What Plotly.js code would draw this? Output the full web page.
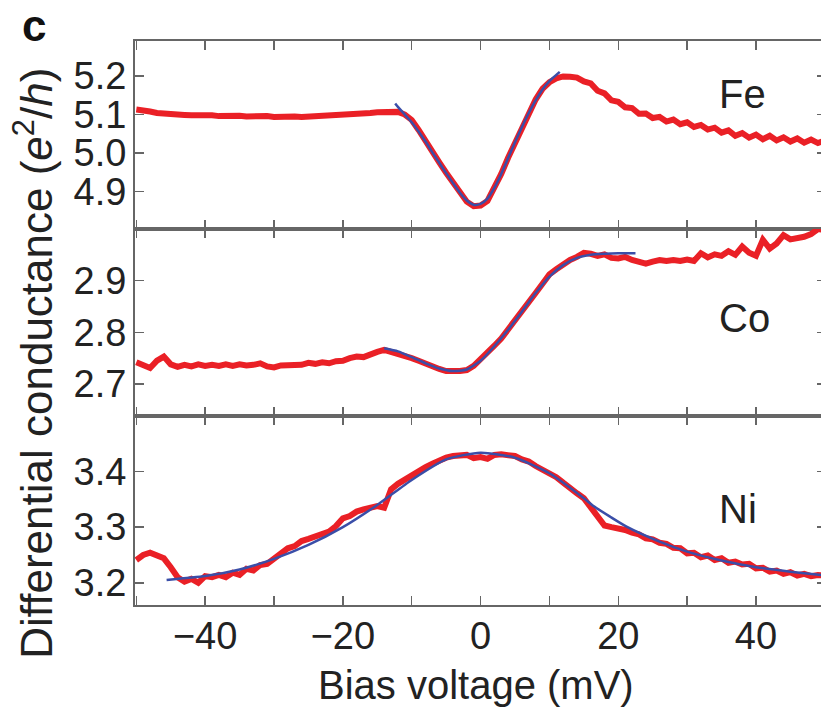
<!DOCTYPE html>
<html><head><meta charset="utf-8">
<script src="https://cdn.plot.ly/plotly-3.0.1.min.js"></script>
<style>html,body{margin:0;padding:0;overflow:hidden;background:#fff}</style>
</head><body><div id="chart" style="width:830px;height:710px"></div>
<script>
// Bias voltage grid (mV)
const bias = [-50,-49,-48,-47,-46,-45,-44,-43,-42,-41,-40,-39,-38,-37,-36,-35,-34,-33,-32,-31,-30,-29,-28,-27,-26,-25,-24,-23,-22,-21,-20,-19,-18,-17,-16,-15,-14,-13,-12,-11,-10,-9,-8,-7,-6,-5,-4,-3,-2,-1,0,1,2,3,4,5,6,7,8,9,10,11,12,13,14,15,16,17,18,19,20,21,22,23,24,25,26,27,28,29,30,31,32,33,34,35,36,37,38,39,40,41,42,43,44,45,46,47,48,49,50];

// Measured differential conductance (e^2/h)
const feData = [5.113,5.112,5.108,5.104,5.102,5.100,5.101,5.099,5.098,5.099,5.097,5.098,5.096,5.097,5.095,5.097,5.095,5.096,5.094,5.096,5.094,5.095,5.093,5.095,5.094,5.095,5.094,5.096,5.095,5.097,5.097,5.099,5.100,5.103,5.104,5.106,5.107,5.109,5.107,5.100,5.086,5.060,5.030,5.002,4.976,4.949,4.923,4.897,4.874,4.862,4.864,4.876,4.910,4.946,4.988,5.028,5.068,5.103,5.139,5.167,5.184,5.194,5.199,5.198,5.196,5.186,5.181,5.162,5.155,5.137,5.133,5.119,5.117,5.102,5.103,5.091,5.094,5.082,5.087,5.075,5.080,5.068,5.073,5.061,5.066,5.053,5.059,5.045,5.052,5.040,5.048,5.036,5.045,5.033,5.041,5.030,5.038,5.027,5.035,5.026,5.033];

const coData = [2.742,2.738,2.731,2.745,2.753,2.738,2.733,2.737,2.734,2.738,2.735,2.737,2.735,2.738,2.735,2.738,2.736,2.737,2.740,2.734,2.732,2.736,2.736,2.738,2.737,2.741,2.739,2.742,2.740,2.744,2.745,2.750,2.753,2.752,2.758,2.762,2.766,2.762,2.760,2.757,2.750,2.745,2.739,2.733,2.729,2.725,2.724,2.725,2.727,2.735,2.748,2.760,2.774,2.788,2.805,2.821,2.840,2.858,2.876,2.894,2.912,2.922,2.932,2.940,2.946,2.954,2.952,2.948,2.951,2.944,2.943,2.946,2.940,2.937,2.933,2.937,2.940,2.938,2.940,2.938,2.941,2.938,2.953,2.945,2.951,2.948,2.957,2.950,2.966,2.954,2.948,2.979,2.962,2.972,2.988,2.980,2.982,2.985,2.990,3.000,2.998];

const niData = [3.241,3.250,3.254,3.249,3.244,3.228,3.210,3.202,3.207,3.200,3.212,3.210,3.214,3.210,3.218,3.214,3.225,3.222,3.232,3.234,3.244,3.252,3.262,3.266,3.275,3.279,3.283,3.288,3.292,3.302,3.316,3.320,3.328,3.332,3.336,3.338,3.335,3.368,3.378,3.386,3.392,3.399,3.408,3.414,3.421,3.425,3.428,3.429,3.430,3.424,3.426,3.423,3.430,3.431,3.430,3.428,3.422,3.418,3.410,3.404,3.397,3.390,3.380,3.372,3.361,3.352,3.336,3.320,3.303,3.300,3.298,3.295,3.290,3.287,3.280,3.278,3.272,3.270,3.263,3.262,3.253,3.254,3.246,3.249,3.241,3.244,3.236,3.238,3.233,3.234,3.226,3.227,3.220,3.222,3.216,3.219,3.213,3.216,3.212,3.214,3.213];

// Fitted curves
const feFitBias = [-12.4,-12,-11,-10,-9,-8,-7,-6,-5,-4,-3,-2,-1,0,1,2,3,4,5,6,7,8,9,10,11,11.5];
const feFit = [5.129,5.120,5.100,5.080,5.056,5.030,5.002,4.975,4.948,4.922,4.897,4.877,4.866,4.868,4.882,4.910,4.946,4.987,5.028,5.067,5.104,5.137,5.165,5.187,5.203,5.211];

const coFitBias = [-14,-12,-10,-8,-6,-4,-2,0,2,4,6,8,10,12,14,16,18,20,22.5];
const coFit = [2.769,2.763,2.752,2.740,2.730,2.725,2.728,2.745,2.773,2.805,2.840,2.876,2.908,2.930,2.944,2.950,2.952,2.953,2.953];

const niFitBias = [-45.6,-40,-35,-30,-25,-20,-15,-10,-5,0,5,10,15,16.4,18.8,21.2,26,30,35,40,45,50];
const niFit = [3.205,3.212,3.224,3.243,3.268,3.300,3.340,3.385,3.422,3.434,3.425,3.397,3.352,3.338,3.319,3.301,3.274,3.256,3.240,3.228,3.220,3.213];

const xTickVals = [-40,-20,0,20,40];
const feTicks = [4.9,5.0,5.1,5.2];
const coTicks = [2.7,2.8,2.9];
const niTicks = [3.2,3.3,3.4];
const panelLabels = ['Fe','Co','Ni'];

const RED = 'rgb(234,32,38)';
const BLUE = 'rgb(58,78,168)';
const FONT = 'Liberation Sans, Arial, Helvetica, sans-serif';
const TXT = '#222';
const AX = '#666';

function dataTrace(x, y, xa, ya){
  return {x:x, y:y, xaxis:xa, yaxis:ya, type:'scatter', mode:'lines',
    line:{color:RED, width:6, shape:'linear'}, hoverinfo:'skip', showlegend:false};
}
function fitTrace(x, y, xa, ya){
  return {x:x, y:y, xaxis:xa, yaxis:ya, type:'scatter', mode:'lines',
    line:{color:BLUE, width:2.5, shape:'spline', smoothing:0.6}, hoverinfo:'skip', showlegend:false};
}

const traces = [
  dataTrace(bias, feData, 'x', 'y'), fitTrace(feFitBias, feFit, 'x', 'y'),
  dataTrace(bias, coData, 'x2', 'y2'), fitTrace(coFitBias, coFit, 'x2', 'y2'),
  dataTrace(bias, niData, 'x3', 'y3'), fitTrace(niFitBias, niFit, 'x3', 'y3')
];

const xRange = [-50.19, 50.17];
function xAxis(anchor, labels){
  return {anchor:anchor, range:xRange, showgrid:false, zeroline:false,
    showline:true, linecolor:AX, linewidth:2, mirror:'ticks',
    ticks:'inside', ticklen:9, tickwidth:1.5, tickcolor:AX,
    tickmode:'array', tickvals:xTickVals, ticktext:xTickVals.map(v=>v<0?'\u2212'+Math.abs(v):String(v)),
    minor:{tickmode:'array', tickvals:[-50,-30,-10,10,30,50], ticks:'inside', ticklen:9, tickwidth:1.5, tickcolor:AX},
    showticklabels:labels, tickfont:{family:FONT, size:38, color:TXT}, ticklabelstandoff:-4};
}
function yAxis(anchor, domain, range, ticks){
  return {anchor:anchor, domain:domain, range:range, showgrid:false, zeroline:false,
    showline:true, linecolor:AX, linewidth:2, mirror:'ticks',
    ticks:'inside', ticklen:9, tickwidth:1.5, tickcolor:AX,
    tickmode:'array', tickvals:ticks, ticktext:ticks.map(v=>v.toFixed(1)),
    tickfont:{family:FONT, size:38, color:TXT}, ticklabelstandoff:-1};
}

const layout = {
  width:830, height:710,
  margin:{l:135, r:4, t:41, b:105},
  paper_bgcolor:'#fff', plot_bgcolor:'#fff',
  showlegend:false,
  xaxis: xAxis('y', false),
  xaxis2: xAxis('y2', false),
  xaxis3: xAxis('y3', true),
  yaxis: yAxis('x', [0.66667,1], [4.803,5.291], feTicks),
  yaxis2: yAxis('x2', [0.33511,0.66667], [2.638,3.0], coTicks),
  yaxis3: yAxis('x3', [0,0.33511], [3.16,3.50], niTicks),
  annotations:[
    {text:panelLabels[0], xref:'paper', yref:'paper', x:0.842, y:0.906, xanchor:'left', yanchor:'middle', showarrow:false, font:{family:FONT, size:40, color:TXT}},
    {text:panelLabels[1], xref:'paper', yref:'paper', x:0.842, y:0.509, xanchor:'left', yanchor:'middle', showarrow:false, font:{family:FONT, size:40, color:TXT}},
    {text:panelLabels[2], xref:'paper', yref:'paper', x:0.842, y:0.170, xanchor:'left', yanchor:'middle', showarrow:false, font:{family:FONT, size:40, color:TXT}},
    {text:'Bias voltage (mV)', xref:'paper', yref:'paper', x:0.4928, y:-0.142, xanchor:'center', yanchor:'middle', showarrow:false, font:{family:FONT, size:40, color:TXT}},
    {text:'Differential conductance (<i>e</i><sup>2</sup>/<i>h</i>)', xref:'paper', yref:'paper', x:-0.148, y:0.429, xanchor:'center', yanchor:'middle', textangle:-90, showarrow:false, font:{family:FONT, size:44, color:TXT}},
    {text:'<b>c</b>', xref:'paper', yref:'paper', x:-0.1455, y:1.027, xanchor:'center', yanchor:'middle', showarrow:false, font:{family:FONT, size:44, color:'#111'}}
  ]
};

Plotly.newPlot('chart', traces, layout, {staticPlot:true, displayModeBar:false});
</script>
</body></html>
